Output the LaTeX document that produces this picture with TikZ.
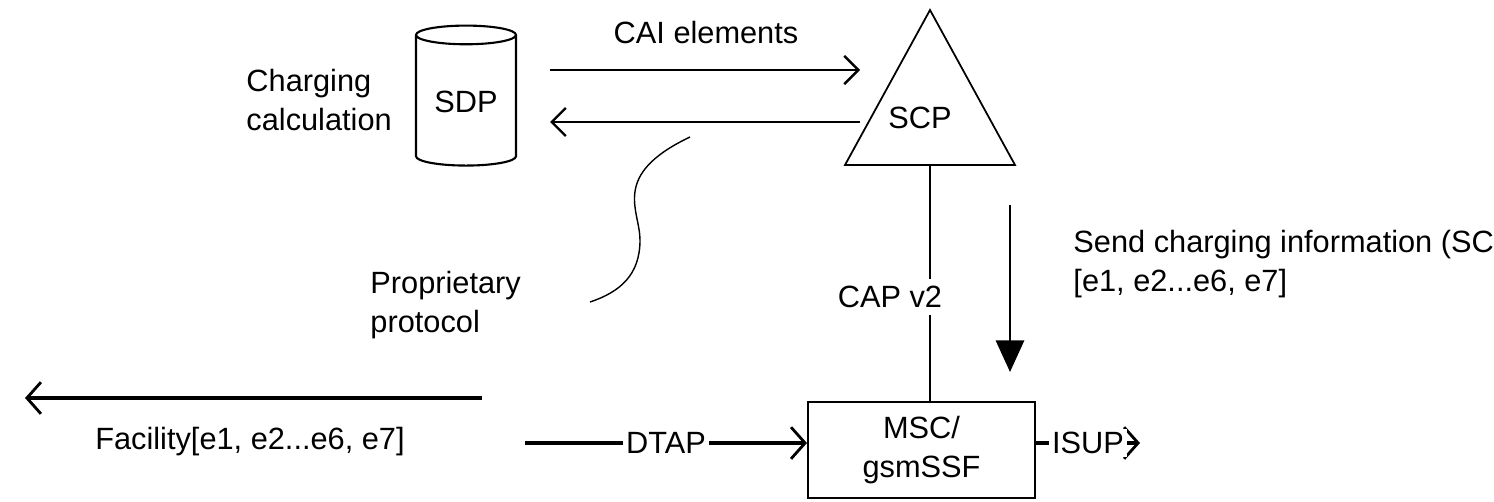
\documentclass[tikz,border=0pt]{standalone}
\usepackage{fontspec}
\setmainfont{Liberation Sans}
\usetikzlibrary{positioning, calc, arrows.meta, shapes.geometric}

\tikzset{
  lbl/.style={font=\fontsize{17.5}{22}\selectfont, inner sep=1pt},
  msg/.style={line width=1.4pt, -{Straight Barb[length=8pt, width=16pt, line width=1.4pt]}},
  thickmsg/.style={line width=2.6pt, -{Straight Barb[length=8pt, width=18pt, line width=1.6pt]}}
}

\begin{document}
\begin{tikzpicture}[x=0.02cm, y=-0.02cm, line width=0.8pt]
      \useasboundingbox (0,0) rectangle (1494,501);

      % SDP database
      \node[cylinder, shape border rotate=90, draw, line width=1.2pt, aspect=0.28,
            minimum width=2cm, minimum height=2.8cm, lbl] (sdp) at (466,102) {SDP};
      \node[lbl, align=left, anchor=west] (calc) at (244,100) {Charging\\calculation};

      % SCP
      \coordinate (scptop) at (930,10);
      \coordinate (scpl) at (845,165);
      \coordinate (scpr) at (1015,165);
      \draw[line width=1pt] (scptop) -- (scpl) -- (scpr) -- cycle;
      \node[lbl] (scp) at (920,118) {SCP};
      \coordinate (scpfoot) at (930,165);

      % SDP <-> SCP
      \coordinate (cai1) at (550,70);
      \coordinate (cai2) at (860,70);
      \coordinate (ret1) at (860,122);
      \coordinate (ret2) at (550,122);
      \draw[msg] (cai1) -- (cai2);
      \draw[msg] (ret1) -- (ret2);
      \node[lbl] (cai) at (706,33) {CAI elements};

      % proprietary protocol
      \coordinate (p1) at (690,137);
      \coordinate (p2) at (590,302);
      \draw[line width=0.8pt] (p1) .. controls (610,175) and (640,210) .. (640,240)
        .. controls (640,275) and (620,292) .. (p2);
      \node[lbl, align=left, anchor=west] (prop) at (368,305) {Proprietary\\protocol};

      % MSC
      \node[draw, line width=1.2pt, minimum width=4.54cm, minimum height=1.92cm,
            lbl, align=center] (msc) at (921.5,450) {MSC/\\gsmSSF};

      % CAP v2
      \draw (scpfoot) -- (msc.north -| scpfoot);
      \node[fill=white, lbl, inner sep=4pt] (cap) at (890,297) {CAP v2};

      % SCI
      \coordinate (sci1) at (1010,205);
      \coordinate (sci2) at (1010,372);
      \draw[line width=1.6pt, -{Triangle[length=18pt, width=16pt]}] (sci1) -- (sci2);
      \node[lbl, align=left, anchor=west] (sci) at (1071,264)
        {Send charging information (SCI)\\{}[e1, e2...e6, e7]};

      % Facility
      \coordinate (fac1) at (482,398);
      \coordinate (fac2) at (25,398);
      \draw[thickmsg] (fac1) -- (fac2);
      \node[lbl] (fac) at (250,442) {Facility[e1, e2...e6, e7]};

      % DTAP / ISUP
      \coordinate (dtap0) at (525,443);
      \draw[thickmsg] (dtap0) -- (msc.west |- dtap0)
        node[midway, fill=white, lbl, inner sep=2pt] (dtap) {DTAP};
      \coordinate (isup1) at (1140,443);
      \draw[thickmsg] (msc.east |- isup1) -- (isup1)
        node[midway, fill=white, lbl, inner sep=2pt] (isup) {ISUP};
\end{tikzpicture}
\end{document}
